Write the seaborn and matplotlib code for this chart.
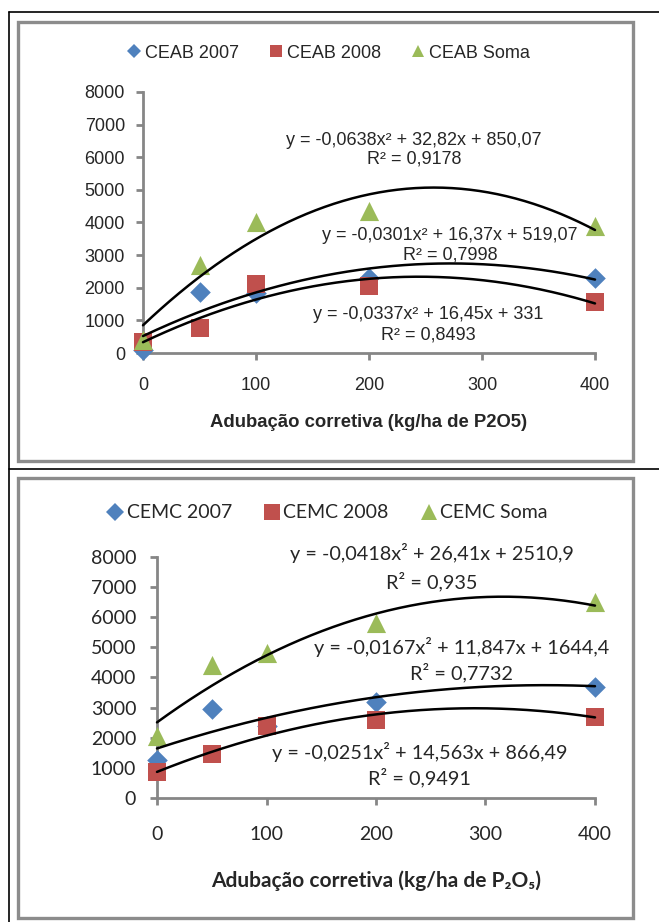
import numpy as np
import pandas as pd
import matplotlib
matplotlib.use('Agg')
import matplotlib.pyplot as plt
import seaborn as sns
from matplotlib.lines import Line2D
from matplotlib.patches import Rectangle

# data
doses = [0, 50, 100, 200, 400]
ceab_2007 = [100, 1870, 1850, 2300, 2300]
ceab_2008 = [350, 780, 2100, 2050, 1550]
ceab_soma = [400, 2700, 4000, 4350, 3900]
cemc_2007 = [1250, 2950, 2400, 3200, 3700]
cemc_2008 = [850, 1450, 2400, 2600, 2700]
cemc_soma = [2050, 4400, 4800, 5800, 6500]

# trendline coefficients printed on the chart (a, b, c)
ceab_coef = {'CEAB 2007': [-0.0301, 16.37, 519.07],
             'CEAB 2008': [-0.0337, 16.45, 331],
             'CEAB Soma': [-0.0638, 32.82, 850.07]}
cemc_coef = {'CEMC 2007': [-0.0167, 11.847, 1644.4],
             'CEMC 2008': [-0.0251, 14.563, 866.49],
             'CEMC Soma': [-0.0418, 26.41, 2510.9]}
ceab_eq = {'CEAB Soma': ('y = -0,0638x² + 32,82x + 850,07', 'R² = 0,9178'),
           'CEAB 2007': ('y = -0,0301x² + 16,37x + 519,07', 'R² = 0,7998'),
           'CEAB 2008': ('y = -0,0337x² + 16,45x + 331', 'R² = 0,8493')}
cemc_eq = {'CEMC Soma': ('y = -0,0418x² + 26,41x + 2510,9', 'R² = 0,935'),
           'CEMC 2007': ('y = -0,0167x² + 11,847x + 1644,4', 'R² = 0,7732'),
           'CEMC 2008': ('y = -0,0251x² + 14,563x + 866,49', 'R² = 0,9491')}
x_ticks = [0, 100, 200, 300, 400]
y_ticks = [0, 1000, 2000, 3000, 4000, 5000, 6000, 7000, 8000]

blue, red, green = '#4F81BD', '#C0504D', '#9BBB59'
axis_gray = '#868686'

sns.set_style('white')

W, H = 659, 922
fig = plt.figure(figsize=(W / 100, H / 100), dpi=100)


def fx(px):
    return px / W


def fy(py):
    return 1 - py / H


def panel(rect, names, values, coef, eqs, eq_pos, font, fs_tick, fs_eq, xlabel,
          fs_xl, xl_y, tick_pad, ytick_pad, leg_xy, fs_leg, leg_ms):
    ax = fig.add_axes(rect)
    df = pd.DataFrame({'dose': doses * 3,
                       'valor': values[0] + values[1] + values[2],
                       'serie': [names[0]] * 5 + [names[1]] * 5 + [names[2]] * 5})
    markers = {names[0]: 'D', names[1]: 's', names[2]: '^'}
    palette = {names[0]: blue, names[1]: red, names[2]: green}
    sizes = {names[0]: 110, names[1]: 170, names[2]: 190}
    for n in names:
        sub = df[df['serie'] == n]
        sns.scatterplot(data=sub, x='dose', y='valor', color=palette[n],
                        marker=markers[n], s=sizes[n], linewidth=0, ax=ax,
                        clip_on=False, zorder=3, legend=False)
    xs = np.linspace(0, 400, 200)
    for n in names:
        curve = pd.DataFrame({'x': xs, 'y': np.polyval(coef[n], xs)})
        sns.lineplot(data=curve, x='x', y='y', color='black', lw=1.8, ax=ax,
                     zorder=4, clip_on=False)
    ax.set_xlim(0, 400)
    ax.set_ylim(0, 8000)
    ax.set_xticks(x_ticks)
    ax.set_yticks(y_ticks)
    for s in ['top', 'right']:
        ax.spines[s].set_visible(False)
    for s in ['left', 'bottom']:
        ax.spines[s].set_color(axis_gray)
        ax.spines[s].set_linewidth(2)
    ax.tick_params(axis='both', direction='out', length=5, width=2,
                   color=axis_gray, labelsize=fs_tick, left=True, bottom=True)
    ax.tick_params(axis='x', pad=tick_pad)
    ax.tick_params(axis='y', pad=ytick_pad)
    for lab in ax.get_xticklabels() + ax.get_yticklabels():
        lab.set_family(font)
    ax.set_ylabel('')
    ax.set_xlabel(xlabel, fontsize=fs_xl, fontweight='bold',
                  family=[font, 'DejaVu Sans'])
    ax.xaxis.set_label_coords(0.5, xl_y)
    for n, (ex, ey, ry) in eq_pos.items():
        eq, r2 = eqs[n]
        ax.text(ex, ey, eq, transform=ax.transAxes, ha='center', va='center',
                fontsize=fs_eq, family=font, zorder=5)
        ax.text(ex, ry, r2, transform=ax.transAxes, ha='center', va='center',
                fontsize=fs_eq, family=font, zorder=5)
    handles = [Line2D([], [], ls='', marker=markers[n], color=palette[n],
                      markersize=leg_ms * (0.8 if n == names[0] else 1),
                      markeredgewidth=0) for n in names]
    fig.legend(handles, names, loc='center', bbox_to_anchor=leg_xy, ncol=3,
               frameon=False, handletextpad=0.15, columnspacing=1.6,
               handlelength=0.9, prop={'family': font, 'size': fs_leg})
    return ax


# top panel
ax1 = panel([fx(143), fy(353), fx(595) - fx(143), fy(92) - fy(353)],
            ['CEAB 2007', 'CEAB 2008', 'CEAB Soma'],
            [ceab_2007, ceab_2008, ceab_soma], ceab_coef, ceab_eq,
            {'CEAB Soma': (0.600, 0.816, 0.743),
             'CEAB 2007': (0.679, 0.452, 0.375),
             'CEAB 2008': (0.631, 0.146, 0.069)},
            'Liberation Sans', 13, 13,
            'Adubação corretiva (kg/ha de P2O5)', 13.3, -0.235, 12, 8,
            (fx(328), fy(53)), 13, 9)

# bottom panel
ax2 = panel([fx(157), fy(798), fx(595) - fx(157), fy(557) - fy(798)],
            ['CEMC 2007', 'CEMC 2008', 'CEMC Soma'],
            [cemc_2007, cemc_2008, cemc_soma], cemc_coef, cemc_eq,
            {'CEMC Soma': (0.628, 1.017, 0.900),
             'CEMC 2007': (0.696, 0.627, 0.519),
             'CEMC 2008': (0.600, 0.191, 0.083)},
            'Lato', 14, 14.3,
            'Adubação corretiva (kg/ha de P₂O₅)', 15, -0.30, 15, 10,
            (fx(327), fy(513)), 14, 11)

# outer frame lines and gray chart borders
for (x0, y0, x1, y1) in [(9, 12, 659, 12), (9, 12, 9, 922), (9, 469, 659, 469)]:
    fig.add_artist(Line2D([fx(x0), fx(x1)], [fy(y0), fy(y1)], color='black', lw=1.2))
for (x0, y0, x1, y1) in [(18, 22, 633, 461), (18, 478, 633, 918)]:
    fig.add_artist(Rectangle((fx(x0), fy(y1)), fx(x1) - fx(x0), fy(y0) - fy(y1),
                             fill=False, edgecolor='#8C8C8C', lw=2.4))

fig.savefig('out.png', dpi=100)
